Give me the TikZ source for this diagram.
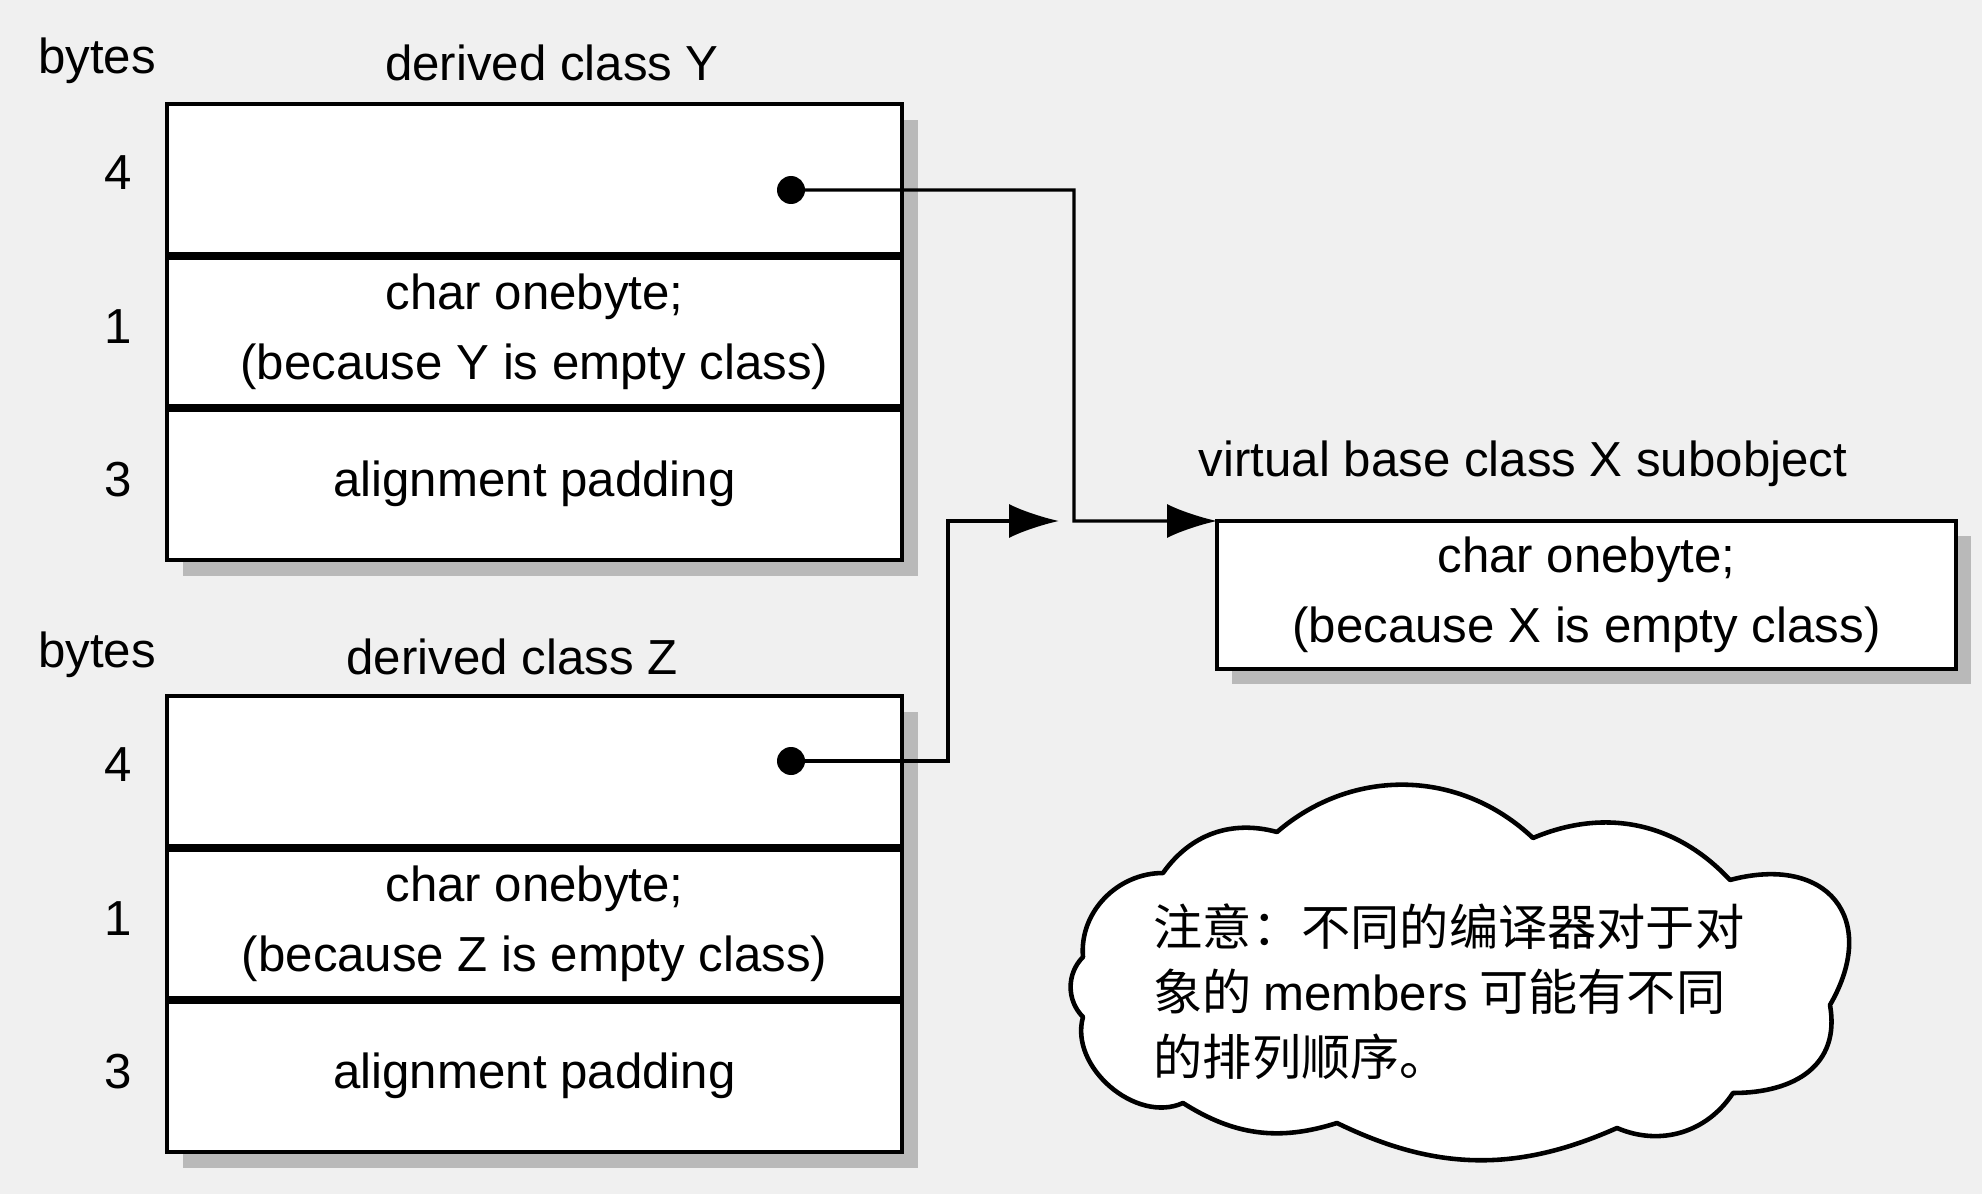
\documentclass[tikz,border=0pt]{standalone}
\usepackage{fontspec}
\setmainfont{Liberation Sans}
\newfontfamily\cjk{Noto Sans CJK SC}
\usetikzlibrary{arrows.meta,positioning,backgrounds}

\begin{document}
\begin{tikzpicture}[>={Latex[length=5mm,width=3.4mm]},
                    font=\fontsize{14pt}{20pt}\selectfont]

  \tikzstyle{slot}=[rectangle,draw,line width=1.3pt,fill=white,outer sep=0pt,
                    inner sep=0pt,minimum width=7.35cm,minimum height=1.52cm,align=center]
  \tikzstyle{divider}=[line width=2pt]
  \tikzstyle{ptr}=[line width=0.9pt]
  \tikzstyle{dot}=[circle,fill=black,inner sep=0pt,minimum size=2.8mm]
  \tikzstyle{shade}=[fill=gray!55]
  \tikzstyle{note}=[draw,line width=1.3pt,fill=white,line join=round]

  \useasboundingbox (0,0) rectangle (19.82,11.94);

  % derived class Y
  \node[slot] (Y1) at (5.345,10.14) {};
  \node[slot] (Y2) [below=0pt of Y1] {char onebyte;\\(because Y is empty class)};
  \node[slot] (Y3) [below=0pt of Y2] {alignment padding};
  \draw[divider] (Y1.south west) -- (Y1.south east);
  \draw[divider] (Y2.south west) -- (Y2.south east);

  \node (bytesY) at (0.97,11.33) {bytes};
  \node (titleY) at (5.52,11.31) {derived class Y};
  \node (nY1) at ([xshift=-0.49cm,yshift=0.07cm]Y1.west) {4};
  \node (nY2) at ([xshift=-0.49cm,yshift=0.05cm]Y2.west) {1};
  \node (nY3) at ([xshift=-0.49cm,yshift=0.04cm]Y3.west) {3};

  % derived class Z
  \node[slot] (Z1) at (5.345,4.22) {};
  \node[slot] (Z2) [below=0pt of Z1] {char onebyte;\\(because Z is empty class)};
  \node[slot] (Z3) [below=0pt of Z2] {alignment padding};
  \draw[divider] (Z1.south west) -- (Z1.south east);
  \draw[divider] (Z2.south west) -- (Z2.south east);

  \node (bytesZ) at (0.97,5.39) {bytes};
  \node (titleZ) at (5.12,5.37) {derived class Z};
  \node (nZ1) at ([xshift=-0.49cm,yshift=0.07cm]Z1.west) {4};
  \node (nZ2) at ([xshift=-0.49cm,yshift=0.05cm]Z2.west) {1};
  \node (nZ3) at ([xshift=-0.49cm,yshift=0.04cm]Z3.west) {3};

  % virtual base class X
  \node[slot,minimum width=7.39cm,minimum height=1.48cm] (X) at (15.865,5.99)
       {char onebyte;\\(because X is empty class)};
  \node (titleX) at (15.23,7.30) {virtual base class X subobject};

  % pointers
  \node[dot] (ydot) at (7.91,10.04) {};
  \node[dot] (zdot) at (7.91,4.33) {};
  \coordinate (ybend) at (10.74,6.73);
  \coordinate (zbend) at (9.48,6.73);
  \coordinate (zend)  at (10.59,6.73);

  \draw[ptr,->] (ydot.center) -| (ybend) -- (X.north west);
  \draw[ptr,->] (zdot.center) -| (zbend) -- (zend);

  % note
  \draw[note] (12.77,3.62) to[bend left=42] (15.33,3.56)
                           to[bend left=35] (17.30,3.14)
                           to[out=15,in=60,looseness=1.6] (18.30,1.89)
                           to[out=-80,in=0,looseness=1.2] (17.33,1.01)
                           to[bend left=40] (16.17,0.66)
                           to[bend left=25] (13.37,0.71)
                           to[bend left=25] (11.83,0.91)
                           to[bend left=65] (10.83,1.77)
                           to[bend left=45] (10.83,2.37)
                           to[out=95,in=180] (11.63,3.21)
                           to[bend left=35] (12.77,3.62) -- cycle;
  \node[align=left,font=\cjk\fontsize{14pt}{18.5pt}\selectfont] (notetext) at (14.49,2.02)
       {注意：不同的编译器对于对\\象的 {\normalfont members} 可能有不同\\的排列顺序。};

  \begin{scope}[on background layer]
    \fill[gray!12] (0,0) rectangle (19.82,11.94);
    \fill[shade] ([shift={(0.16,-0.16)}]Y1.north west) rectangle ([shift={(0.16,-0.16)}]Y3.south east);
    \fill[shade] ([shift={(0.16,-0.16)}]Z1.north west) rectangle ([shift={(0.16,-0.16)}]Z3.south east);
    \fill[shade] ([shift={(0.15,-0.15)}]X.north west) rectangle ([shift={(0.15,-0.15)}]X.south east);
  \end{scope}
\end{tikzpicture}
\end{document}
